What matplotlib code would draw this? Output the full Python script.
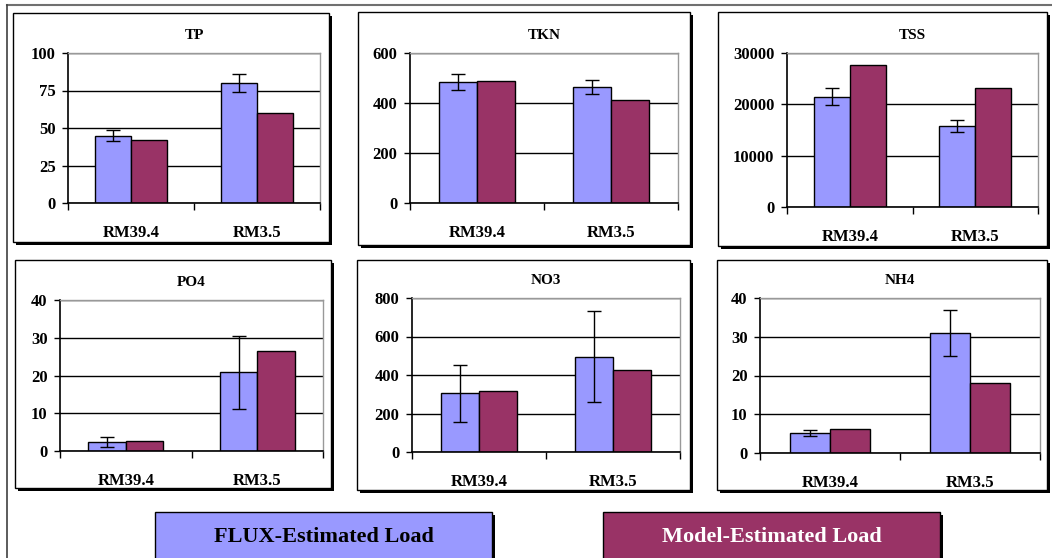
import numpy as np
import matplotlib
matplotlib.use('Agg')
import matplotlib.pyplot as plt
from matplotlib.patches import Rectangle
from matplotlib.lines import Line2D

# Данные
sites = ['RM39.4', 'RM3.5']
params = ['TP', 'TKN', 'TSS', 'PO4', 'NO3', 'NH4']
flux = {
    'TP': [45, 80],
    'TKN': [486, 466],
    'TSS': [21500, 15800],
    'PO4': [2.4, 20.8],
    'NO3': [305, 496],
    'NH4': [5.2, 31],
}
flux_err = {
    'TP': [3.8, 6.2],
    'TKN': [32, 28],
    'TSS': [1600, 1200],
    'PO4': [1.4, 9.6],
    'NO3': [148, 237],
    'NH4': [0.85, 6],
}
model = {
    'TP': [42, 60],
    'TKN': [490, 412],
    'TSS': [27700, 23100],
    'PO4': [2.6, 26.5],
    'NO3': [318, 426],
    'NH4': [6.1, 18],
}
yticks = {
    'TP': [0, 25, 50, 75, 100],
    'TKN': [0, 200, 400, 600],
    'TSS': [0, 10000, 20000, 30000],
    'PO4': [0, 10, 20, 30, 40],
    'NO3': [0, 200, 400, 600, 800],
    'NH4': [0, 10, 20, 30, 40],
}
legend_labels = ['FLUX-Estimated Load', 'Model-Estimated Load']

# Геометрия в пикселях: рамка панели и область графика (left, top, right, bottom)
frames = {
    'TP': (13, 13, 329, 242), 'TKN': (358, 12, 690, 245), 'TSS': (718, 12, 1047, 246),
    'PO4': (15, 260, 331, 488), 'NO3': (357, 260, 690, 490), 'NH4': (717, 260, 1047, 490),
}
plots = {
    'TP': (68, 53, 320, 203), 'TKN': (410, 53, 678, 203), 'TSS': (787, 53, 1038, 207),
    'PO4': (60, 300, 323, 451), 'NO3': (412, 298, 680, 452), 'NH4': (760, 298, 1040, 453),
}

W, H = 1052, 558
c_flux = '#9999FF'
c_model = '#993366'
font = 'Liberation Serif'

fig = plt.figure(figsize=(W / 100, H / 100), dpi=100)
fig.patch.set_facecolor('white')


def fx(x):
    return x / W


def fy(y):
    return 1 - y / H


def box(l, t, r, b, face, sh=3, z=-2):
    # тень + прямоугольник
    fig.patches.append(Rectangle((fx(l + sh), fy(b + sh)), fx(r - l), (b - t) / H,
                                 transform=fig.transFigure, facecolor='black',
                                 edgecolor='none', zorder=z))
    fig.patches.append(Rectangle((fx(l), fy(b)), fx(r - l), (b - t) / H,
                                 transform=fig.transFigure, facecolor=face,
                                 edgecolor='black', linewidth=1, zorder=z + 0.5))


# Внешняя рамка (верх и лево)
fig.lines.append(Line2D([fx(7), 1], [fy(5), fy(5)], transform=fig.transFigure,
                        color='#707070', linewidth=1.5))
fig.lines.append(Line2D([fx(7), fx(7)], [fy(5), 0], transform=fig.transFigure,
                        color='#404040', linewidth=1.2))

x = np.arange(len(sites))
w = 0.285

for p in params:
    box(*frames[p], 'white')
    l, t, r, b = plots[p]
    ax = fig.add_axes([fx(l), fy(b), fx(r - l), (b - t) / H])
    ax.set_axisbelow(True)
    ax.bar(x - w / 2, flux[p], w, color=c_flux, edgecolor='black', linewidth=1,
           yerr=flux_err[p], capsize=5, error_kw=dict(elinewidth=1, capthick=1, ecolor='black'))
    ax.bar(x + w / 2, model[p], w, color=c_model, edgecolor='black', linewidth=1)
    ax.set_xlim(-0.5, 1.5)
    ax.set_ylim(yticks[p][0], yticks[p][-1])
    ax.set_yticks(yticks[p])
    ax.set_yticklabels([str(v) for v in yticks[p]], fontfamily=font,
                       fontweight='bold', fontsize=12)
    ax.set_xticks(x)
    ax.set_xticklabels(sites, fontfamily=font, fontweight='bold', fontsize=12)
    ax.set_xticks([-0.5, 0.5, 1.5], minor=True)
    ax.tick_params(axis='x', which='major', length=0, pad=16)
    ax.tick_params(axis='x', which='minor', length=5, width=1, direction='out')
    ax.tick_params(axis='y', length=4, width=1, direction='out', pad=5)
    ax.yaxis.grid(True, color='black', linewidth=1)
    for s in ['left', 'bottom']:
        ax.spines[s].set_color('black')
        ax.spines[s].set_linewidth(1.2)
    for s in ['top', 'right']:
        ax.spines[s].set_color('#999999')
        ax.spines[s].set_linewidth(1)
    fl, ft, fr, fb = frames[p]
    ax.set_title(p, fontfamily=font, fontweight='bold', fontsize=11, pad=10)

# Легенда
for (l, r), face, tc, lab in [((155, 492), c_flux, 'black', legend_labels[0]),
                              ((603, 940), c_model, 'white', legend_labels[1])]:
    box(l, 512, r, 565, face, sh=3, z=1)
    fig.text(fx((l + r) / 2), fy(537), lab, ha='center', va='center', color=tc,
             fontfamily=font, fontweight='bold', fontsize=16, zorder=3)

fig.savefig('out.png', dpi=100)
